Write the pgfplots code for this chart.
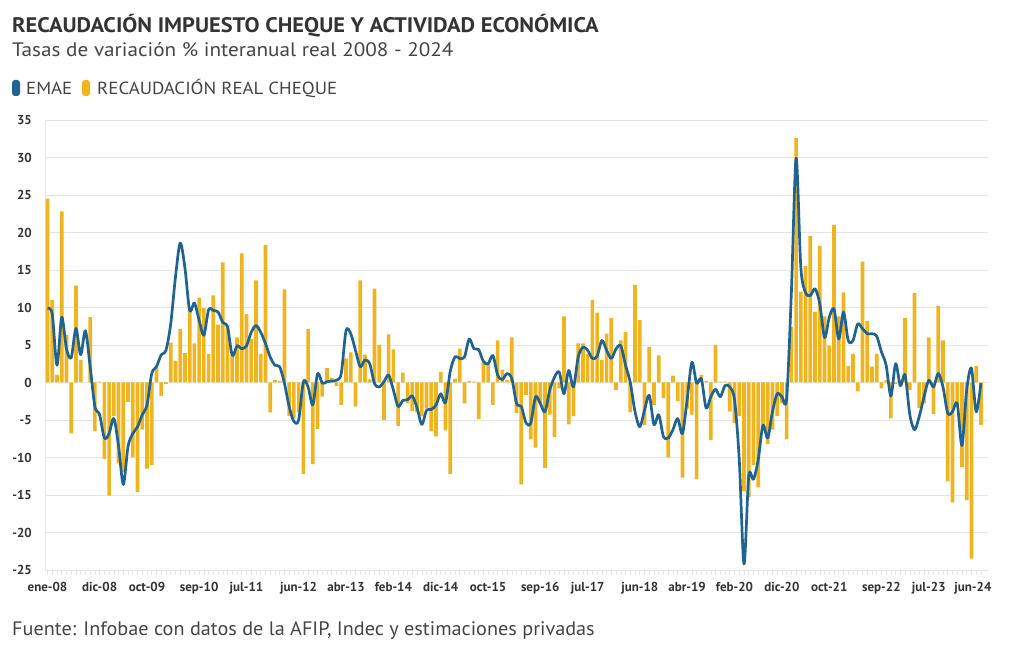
\documentclass[border=0pt]{standalone}
\usepackage{fontspec}
\setmainfont{PT Sans}
\usepackage{pgfplots}
\usepackage{pgfplotstable}
\pgfplotsset{compat=1.18}

\definecolor{emae}{HTML}{1E6391}
\definecolor{cheque}{HTML}{F0B41E}
\definecolor{gridc}{HTML}{E6E6E6}
\definecolor{txt}{HTML}{333333}
\definecolor{subt}{HTML}{444444}

\pgfplotstableread{
i bar line
0 24.5 9.9
1 11.0 9.1
2 1.0 2.3
3 22.8 8.7
4 6.3 4.5
5 -6.8 3.3
6 12.9 7.2
7 3.0 3.7
8 0.0 6.9
9 8.7 2.1
10 -6.5 -3.2
11 0.1 -4.3
12 -10.2 -7.4
13 -15.1 -6.8
14 -4.5 -4.8
15 -10.8 -8.5
16 -12.0 -13.6
17 -2.6 -8.5
18 -10.0 -6.8
19 -14.6 -5.9
20 -6.3 -4.3
21 -11.5 -3.0
22 -11.0 1.2
23 2.0 2.1
24 -1.8 3.7
25 -0.2 4.3
26 5.3 7.8
27 2.9 14.0
28 7.1 18.6
29 3.9 15.3
30 9.7 9.6
31 5.2 10.6
32 11.3 8.3
33 9.9 6.3
34 3.8 9.7
35 11.6 9.6
36 7.7 9.4
37 16.0 8.0
38 7.6 7.4
39 3.6 3.6
40 6.0 4.9
41 17.2 4.5
42 9.1 4.9
43 5.8 6.7
44 13.6 7.6
45 3.8 6.7
46 18.3 5.2
47 -4.0 3.4
48 0.3 2.3
49 0.2 2.1
50 12.4 -0.1
51 -4.5 -3.2
52 -4.8 -5.2
53 -4.0 -5.0
54 -12.2 0.1
55 7.1 -0.6
56 -10.9 -3.0
57 -6.2 1.2
58 -1.9 -0.1
59 1.9 0.1
60 0.6 0.2
61 -0.5 0.3
62 -3.0 1.2
63 3.2 6.9
64 4.0 6.5
65 -3.2 4.3
66 13.6 2.1
67 3.7 3.0
68 0.4 2.5
69 12.5 -0.1
70 5.0 -0.6
71 -5.0 0.1
72 6.4 1.0
73 4.4 -1.0
74 -5.8 -3.2
75 1.3 -2.4
76 -2.8 -2.3
77 -3.8 -1.8
78 -4.0 -3.4
79 -4.5 -5.6
80 -3.5 -3.7
81 -6.5 -3.6
82 -7.2 -3.0
83 1.4 -1.5
84 -6.4 -2.7
85 -12.2 1.5
86 0.5 3.4
87 4.5 3.2
88 -2.8 3.4
89 0.2 5.8
90 0.1 4.5
91 -4.9 4.4
92 2.7 2.8
93 2.5 2.5
94 -3.0 3.6
95 5.6 1.0
96 1.7 0.4
97 0.3 1.2
98 6.0 0.5
99 -4.1 -2.8
100 -13.6 -3.2
101 -1.7 -5.4
102 -7.6 -5.4
103 -8.7 -1.9
104 -2.8 -2.8
105 -11.4 -3.9
106 -4.3 -1.0
107 -7.3 0.7
108 -0.8 1.4
109 8.8 -1.5
110 -5.6 1.6
111 -4.5 -0.6
112 5.2 3.4
113 5.2 4.7
114 3.8 4.3
115 11.0 3.2
116 9.3 3.5
117 3.0 5.6
118 6.5 4.3
119 8.6 3.2
120 -1.0 4.5
121 5.6 4.9
122 6.7 2.3
123 -4.0 0.0
124 13.0 -3.9
125 8.3 -5.9
126 -5.7 -3.7
127 4.7 -1.7
128 -3.0 -5.6
129 3.6 -4.3
130 -2.1 -7.2
131 -10.0 -7.4
132 0.9 -6.3
133 -2.5 -4.8
134 -12.7 -6.8
135 -3.5 -2.3
136 -4.3 2.7
137 -12.9 -0.1
138 1.0 0.5
139 0.2 -3.4
140 -7.7 -1.9
141 5.0 -0.9
142 0.1 -1.9
143 0.1 -0.4
144 -3.9 -0.6
145 -5.4 -2.3
146 -4.5 -10.3
147 -14.5 -24.2
148 -15.3 -12.5
149 -11.0 -12.9
150 -14.0 -10.3
151 -6.3 -5.7
152 -8.2 -7.4
153 -6.3 -3.9
154 -4.5 -1.5
155 -2.8 -1.9
156 -7.6 -2.1
157 7.4 12.0
158 32.6 29.9
159 12.1 15.3
160 15.5 12.0
161 19.5 11.6
162 9.4 12.5
163 18.2 10.5
164 8.8 6.0
165 4.9 8.7
166 21.0 9.8
167 8.8 5.8
168 12.0 9.4
169 2.2 5.6
170 3.8 5.6
171 -1.2 7.8
172 16.1 7.2
173 8.2 6.5
174 2.1 6.5
175 3.8 6.2
176 -0.8 4.1
177 0.3 2.3
178 -4.8 -1.8
179 -0.2 2.5
180 -0.6 -0.4
181 8.6 1.0
182 -1.0 -4.3
183 11.9 -6.3
184 -3.4 -4.5
185 -2.8 -1.9
186 6.0 0.3
187 -4.2 -0.6
188 10.2 1.2
189 5.6 -0.6
190 -13.2 -4.1
191 -16.0 -3.9
192 -3.0 -2.8
193 -11.3 -8.4
194 -15.7 -1.0
195 -23.5 1.9
196 2.2 -3.9
197 -5.7 -0.1
}\data

\begin{document}
\begin{tikzpicture}[x=1pt,y=1pt]
\useasboundingbox (0,0) rectangle (1020,650);
% titles
\node[anchor=base west, inner sep=0pt, text=txt] at (12,617) {\scalebox{1.069}[1]{\fontsize{21}{21}\selectfont\bfseries RECAUDACIÓN IMPUESTO CHEQUE Y ACTIVIDAD ECONÓMICA}};
\node[anchor=base west, inner sep=0pt, text=subt] at (12,593) {\scalebox{1.086}[1]{\fontsize{19.5}{19.5}\selectfont Tasas de variación \% interanual real 2008 - 2024}};
% legend
\fill[emae, rounded corners=3pt] (12,554) rectangle (20,570);
\node[anchor=base west, inner sep=0pt, text=subt] at (26,555) {\scalebox{1.077}[1]{\fontsize{17.5}{17.5}\selectfont EMAE}};
\fill[cheque, rounded corners=3pt] (82,554) rectangle (90,570);
\node[anchor=base west, inner sep=0pt, text=subt] at (97,555) {\scalebox{1.077}[1]{\fontsize{17.5}{17.5}\selectfont RECAUDACIÓN REAL CHEQUE}};
% source
\node[anchor=base west, inner sep=0pt, text=subt] at (12,14) {\scalebox{1.037}[1]{\fontsize{19.5}{19.5}\selectfont Fuente: Infobae con datos de la AFIP, Indec y estimaciones privadas}};
\begin{axis}[
  at={(45pt,80pt)}, anchor=south west,
  width=943pt, height=450pt, scale only axis,
  xmin=-0.53, xmax=198.5, ymin=-25, ymax=35,
  ytick={-25,-20,...,35},
  ymajorgrids, grid style={draw=gridc, line width=0.8pt},
  axis x line*=bottom, axis y line*=left,
  axis line style={draw=gridc, line width=0.8pt},
  xtick={0,11,21,32,42,53,63,73,83,93,104,114,125,135,145,155,165,176,186,197},
  xticklabels={ene-08,dic-08,oct-09,sep-10,jul-11,jun-12,abr-13,feb-14,dic-14,oct-15,sep-16,jul-17,jun-18,abr-19,feb-20,dic-20,oct-21,sep-22,jul-23,{\kern-8pt jun-24\kern8pt}},
  minor xtick={0,1,...,197},
  tick align=outside,
  major tick length=5pt, minor tick length=5pt,
  xtick style={draw=gridc, line width=0.6pt},
  ytick style={draw=none},
  /pgf/number format/assume math mode=true,
  xticklabel style={font=\bfseries\fontsize{13}{13}\selectfont, text=txt, inner sep=0pt, yshift=-7pt},
  yticklabel style={font=\bfseries\fontsize{13}{13}\selectfont, text=txt, inner sep=0pt, xshift=-8pt},
  clip=false,
]
\addplot[ybar, bar width=0.78, fill=cheque, draw=none] table[x=i,y=bar]{\data};
\addplot[emae, line width=2.7pt, smooth, tension=0.5, line join=round] table[x=i,y=line]{\data};
\end{axis}
\end{tikzpicture}
\end{document}
